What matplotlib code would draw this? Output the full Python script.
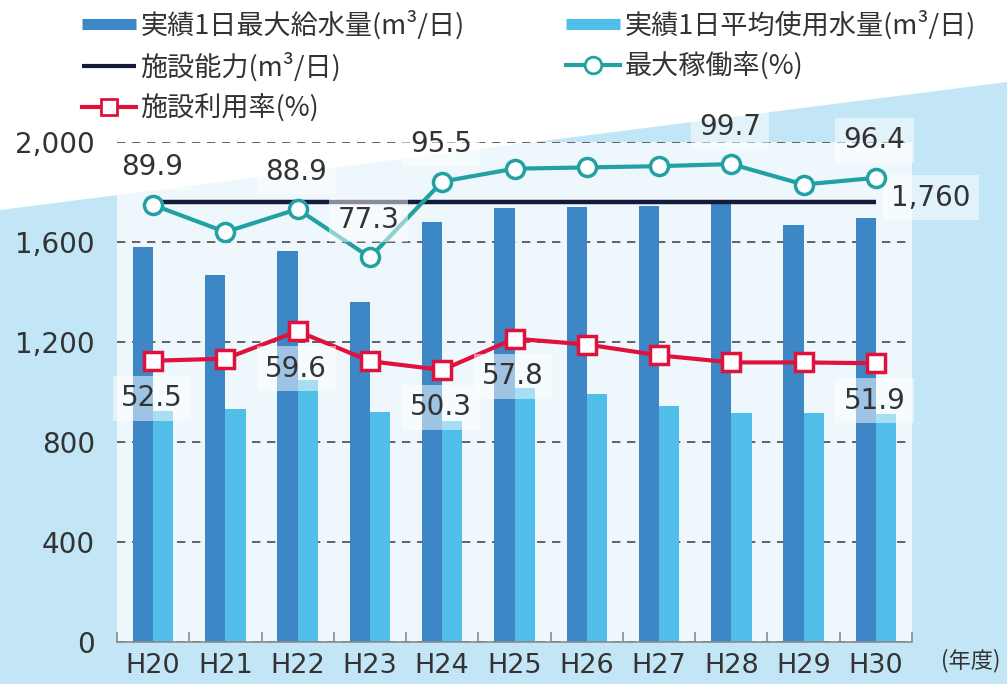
import matplotlib
matplotlib.use('Agg')
import matplotlib.pyplot as plt
from matplotlib.lines import Line2D
from matplotlib.patches import Polygon
import numpy as np

# ---------------- data ----------------
years = ['H20', 'H21', 'H22', 'H23', 'H24', 'H25', 'H26', 'H27', 'H28', 'H29', 'H30']
max_supply = [1582, 1468, 1565, 1360, 1681, 1735, 1741, 1745, 1755, 1668, 1697]
avg_use = [924, 933, 1049, 922, 885, 1017, 992, 946, 917, 917, 913]
capacity = [1760] * 11
max_rate = [89.9, 83.4, 88.9, 77.3, 95.5, 98.6, 98.9, 99.2, 99.7, 94.8, 96.4]
use_rate = [52.5, 53.0, 59.6, 52.4, 50.3, 57.8, 56.4, 53.8, 52.1, 52.1, 51.9]
max_rate_labeled = [0, 2, 3, 4, 8, 10]
use_rate_labeled = [0, 2, 4, 5, 10]
yticks = [0, 400, 800, 1200, 1600, 2000]
ytick_labels = ['0', '400', '800', '1,200', '1,600', '2,000']
legend_labels = ['実績1日最大給水量(m³/日)', '施設能力(m³/日)', '施設利用率(%)',
                 '実績1日平均使用水量(m³/日)', '最大稼働率(%)']
unit_label = '(年度)'

# ---------------- style ----------------
C_DARK = '#3d87c7'
C_LIGHT = '#50bee8'
C_NAVY = '#151a3a'
C_TEAL = '#21a1a2'
C_RED = '#e0123d'
C_BG = '#c3e6f6'
TXT = '#333333'
CJK = ['Noto Sans CJK JP', 'DejaVu Sans']

plt.rcParams['font.family'] = ['DejaVu Sans', 'Noto Sans CJK JP']

W, H = 1007, 684
fig = plt.figure(figsize=(W / 100, H / 100), dpi=100, facecolor=C_BG)

# white diagonal region at top-left
fig.patches.append(Polygon([(0, 1), (0, 1 - 210 / H), (1, 1 - 82 / H), (1, 1)],
                           closed=True, transform=fig.transFigure,
                           facecolor='white', edgecolor='none', zorder=0))

left, right, top, bottom = 117, 912, 142, 642
ax = fig.add_axes([left / W, 1 - bottom / H, (right - left) / W, (bottom - top) / H])
ax.set_facecolor((1, 1, 1, 0.7))
ax.set_zorder(1)

x = np.arange(len(years))
w = 0.28
ax.bar(x - w / 2, max_supply, width=w, color=C_DARK, zorder=2)
ax.bar(x + w / 2, avg_use, width=w, color=C_LIGHT, zorder=2)
ax.plot(x, capacity, color=C_NAVY, lw=3.2, zorder=3, solid_capstyle='butt')

ax.set_xlim(-0.5, len(years) - 0.5)
ax.set_ylim(0, 2000)
ax.set_yticks(yticks)
ax.set_yticklabels(ytick_labels)
ax.set_xticks(x)
ax.set_xticklabels(years)
ax.set_xticks(np.arange(-0.5, len(years), 1), minor=True)
ax.tick_params(axis='x', which='major', length=0, pad=8, labelsize=19.5, labelcolor=TXT)
ax.tick_params(axis='x', which='minor', direction='in', length=7, color='#8a8a8a', width=1.2)
ax.tick_params(axis='y', length=0, pad=16, labelsize=20, labelcolor=TXT)
ax.yaxis.grid(True, linestyle=(0, (5, 4)), color='#4a4a4a', lw=1.2)
ax.set_axisbelow(True)
for s in ['left', 'right', 'top']:
    ax.spines[s].set_visible(False)
ax.spines['bottom'].set_color('#8a8a8a')
ax.spines['bottom'].set_linewidth(1.2)

ax.annotate(f'{capacity[-1]:,}', xy=(x[-1], capacity[-1]), xytext=(11, 3),
            textcoords='offset points', ha='left', va='center', fontsize=20, color=TXT,
            bbox=dict(boxstyle='square,pad=0.3', fc='white', ec='none', alpha=0.5),
            zorder=6, annotation_clip=False)

ax2 = ax.twinx()
ax2.set_ylim(-15, 105)
ax2.set_yticks([])
for s in ax2.spines.values():
    s.set_visible(False)
ax2.patch.set_visible(False)

ax2.plot(x, max_rate, color=C_TEAL, lw=3, marker='o', ms=13, mfc='white',
         mec=C_TEAL, mew=2.5, zorder=4)
ax2.plot(x, use_rate, color=C_RED, lw=3, marker='s', ms=13, mfc='white',
         mec=C_RED, mew=2.5, zorder=4)

box = dict(boxstyle='square,pad=0.3', fc='white', ec='none', alpha=0.5)
for i in max_rate_labeled:
    ax2.annotate(f'{max_rate[i]:.1f}', xy=(x[i], max_rate[i]), xytext=(-1, 27),
                 textcoords='offset points', ha='center', va='center', fontsize=20,
                 color=TXT, bbox=box, zorder=6, annotation_clip=False)
for i in use_rate_labeled:
    ax2.annotate(f'{use_rate[i]:.1f}', xy=(x[i], use_rate[i]), xytext=(-1, -27),
                 textcoords='offset points', ha='center', va='center', fontsize=20,
                 color=TXT, bbox=box, zorder=6, annotation_clip=False)

# ---------------- legend ----------------
h_max = Line2D([], [], color=C_DARK, lw=8, solid_capstyle='butt')
h_cap = Line2D([], [], color=C_NAVY, lw=3, solid_capstyle='butt')
h_use = Line2D([], [], color=C_RED, lw=3, marker='s', ms=12, mfc='white', mec=C_RED, mew=2)
h_avg = Line2D([], [], color=C_LIGHT, lw=8, solid_capstyle='butt')
h_rate = Line2D([], [], color=C_TEAL, lw=3, marker='o', ms=12, mfc='white', mec=C_TEAL, mew=2)

leg_kw = dict(loc='upper left', frameon=False, borderpad=0, borderaxespad=0,
              handlelength=2.0, handletextpad=0.15, labelspacing=0.47, numpoints=1,
              prop={'family': CJK, 'size': 19.5})
leg1 = fig.legend([h_max, h_cap, h_use], legend_labels[:3],
                  bbox_to_anchor=(82 / W, 1 - 10 / H), **leg_kw)
leg2 = fig.legend([h_avg, h_rate], legend_labels[3:],
                  bbox_to_anchor=(566 / W, 1 - 10 / H), **leg_kw)
for lg in (leg1, leg2):
    for t in lg.get_texts():
        t.set_color(TXT)

fig.text(971 / W, 1 - 661 / H, unit_label, ha='center', va='center', fontsize=16,
         color=TXT, family=CJK)

fig.savefig('out.png', dpi=100, facecolor=fig.get_facecolor())
